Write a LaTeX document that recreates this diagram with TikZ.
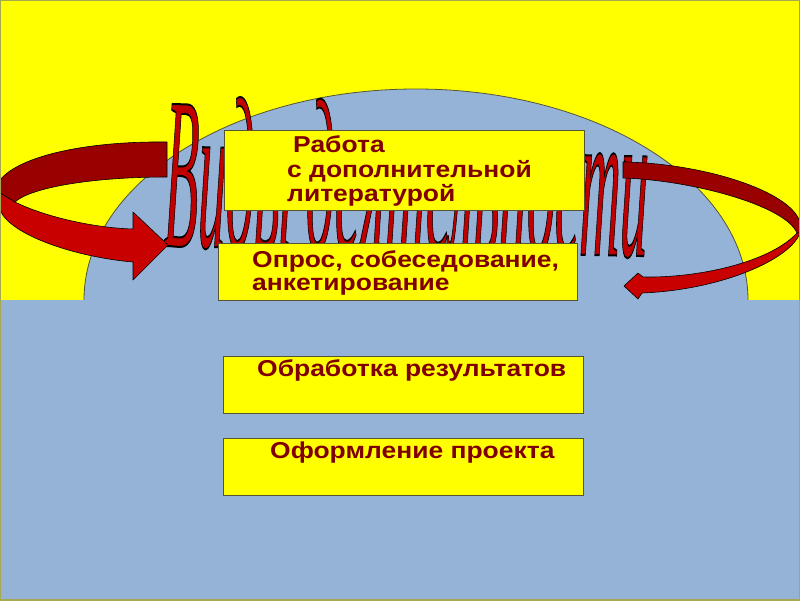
\documentclass[tikz,border=0pt]{standalone}
\usepackage{fontspec}
\setmainfont{Liberation Sans}
\newfontfamily\boxfont{Liberation Sans}[FakeStretch=1.15]
\newfontfamily\wafont{Liberation Serif}
\usepackage{graphicx}
\definecolor{bgyellow}{RGB}{255,255,0}
\definecolor{bgblue}{RGB}{149,179,215}
\definecolor{edgecol}{RGB}{85,85,51}
\definecolor{framecol}{RGB}{165,170,80}
\definecolor{txtred}{RGB}{128,0,0}
\definecolor{arrdark}{RGB}{153,0,0}
\definecolor{arrlight}{RGB}{200,0,0}
\definecolor{wared}{RGB}{192,0,0}
\tikzset{
 plate/.style={draw=edgecol, line width=1pt, fill=bgyellow, anchor=north west, inner sep=0pt},
 boxtext/.style={anchor=base west, inner sep=0pt, text=txtred, font=\boxfont\fontsize{23}{24}\selectfont\bfseries},
 ribbon/.style={draw=black, line width=0.6pt, line join=round},
}
\begin{document}
\begin{tikzpicture}[x=1pt,y=-1pt]
\useasboundingbox (0,0) rectangle (800,600);
\fill[bgyellow] (0,0) rectangle (800,300);
\fill[bgblue] (84,300) arc[start angle=180,end angle=360,x radius=332,y radius=211] -- cycle;
\draw[edgecol, line width=0.8pt] (84,300) arc[start angle=180,end angle=360,x radius=332,y radius=211];
\fill[bgblue] (0,300) rectangle (800,600);
% word art
\node[anchor=base west, inner sep=0pt, rotate=-1.2] (wa) at (163,246)
 {\color{wared}\resizebox{484pt}{\height}{\special{pdf:literal direct 2 Tr 0 G 2 w}\wafont\itshape\fontsize{217}{217}\selectfont Виды деятельности\special{pdf:literal direct 0 Tr}}};
% left arrow
\filldraw[ribbon, fill=arrdark] (167,142) .. controls (90,141) and (20,155) .. (0,180) -- (0,193) -- (15,202) .. controls (30,188) and (90,177) .. (167,177) -- cycle;
\filldraw[ribbon, fill=arrlight] (15,202) .. controls (45,217) and (95,228) .. (133,229) -- (133,212) -- (168,245) -- (133,280) -- (133,262) .. controls (75,257) and (10,235) .. (0,210) -- (0,193) -- cycle;
% right arrow
\filldraw[ribbon, fill=arrdark] (623,162) .. controls (700,163) and (790,190) .. (800,222) -- (800,233) -- (797,233) .. controls (785,205) and (690,180) .. (623,178) -- cycle;
\filldraw[ribbon, fill=arrlight] (797,233) .. controls (770,262) and (700,278) .. (643,277) -- (638,273) -- (624,286) -- (638,299) -- (642,293) .. controls (720,290) and (790,260) .. (800,233) -- cycle;
% boxes
\node[plate, minimum width=360pt, minimum height=80pt] (b1) at (224,130) {};
\node[plate, minimum width=359pt, minimum height=57pt] (b2) at (218,243) {};
\node[plate, minimum width=360pt, minimum height=57pt] (b3) at (223,356) {};
\node[plate, minimum width=360pt, minimum height=57pt] (b4) at (223,438) {};
\node[boxtext] (t1a) at (293,152) {Работа};
\node[boxtext] (t1b) at (287,177) {с дополнительной};
\node[boxtext] (t1c) at (287,201) {литературой};
\node[boxtext] (t2a) at (252,267) {Опрос, собеседование,};
\node[boxtext] (t2b) at (252,290) {анкетирование};
\node[boxtext] (t3) at (257,376) {Обработка результатов};
\node[boxtext] (t4) at (270,458) {Оформление проекта};
\draw[framecol, line width=1.5pt] (0,0) rectangle (800,600);
\end{tikzpicture}
\end{document}
